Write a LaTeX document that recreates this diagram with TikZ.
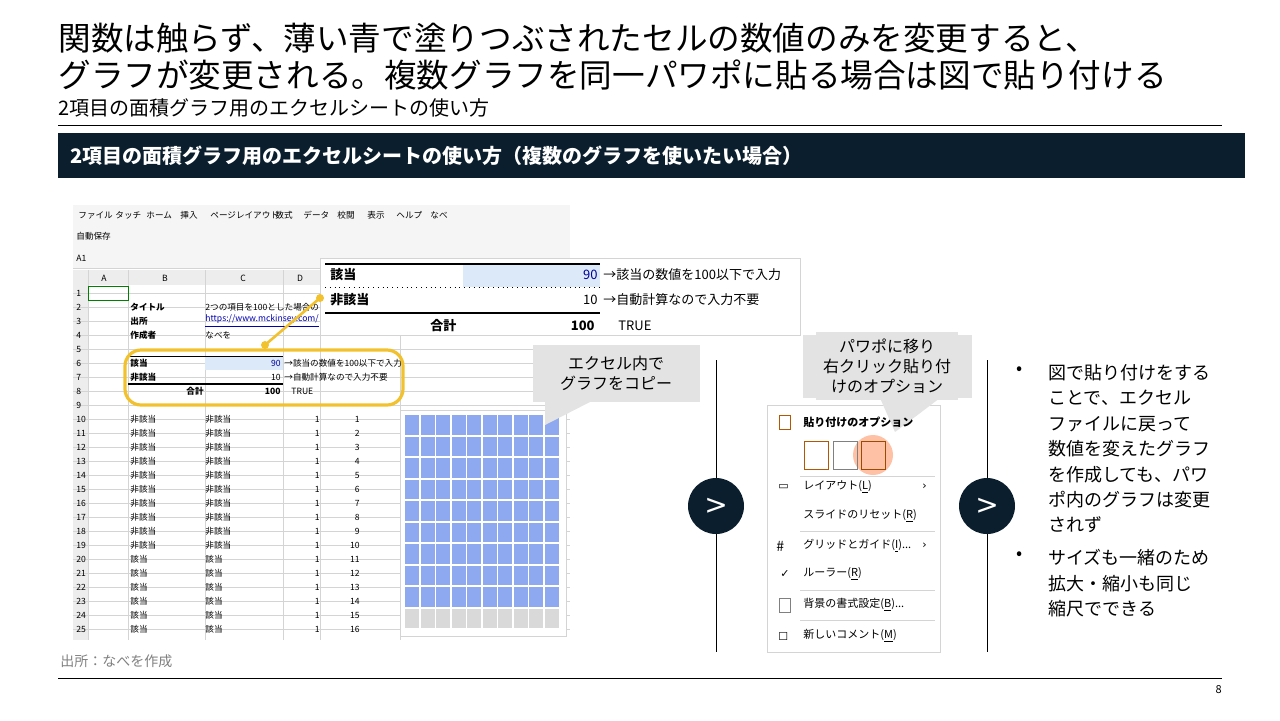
\documentclass[tikz,border=0pt]{standalone}
\usepackage{fontspec}
\setmainfont{Noto Sans CJK JP}
\newfontfamily\dv{DejaVu Sans}
\usetikzlibrary{calc}
\definecolor{navy}{HTML}{0B1E2D}
\definecolor{cellblue}{HTML}{DCE9F8}
\definecolor{waffle}{HTML}{8EA9F0}
\definecolor{wgray}{HTML}{D9D9D9}
\definecolor{callgray}{HTML}{E3E3E3}
\definecolor{yel}{HTML}{F2C12E}
\definecolor{gridc}{HTML}{D4D4D4}
\tikzset{
 tiny/.style={font=\fontsize{4.3}{5}\selectfont, inner sep=0pt, anchor=west},
 call/.style={fill=callgray, draw=none, align=center, font=\fontsize{8}{10}\selectfont},
 bul/.style={anchor=north west, align=left, font=\fontsize{9}{12.7}\selectfont, inner sep=0pt},
 menu/.style={anchor=west, font=\fontsize{5.5}{7}\selectfont, inner sep=0pt},
 chev/.style={circle, fill=navy, minimum size=28pt, text=white, font=\fontsize{14}{14}\selectfont\dv, inner sep=0pt},
 big/.style={anchor=west, font=\fontsize{6.5}{8}\selectfont\bfseries, inner sep=0pt},
}
\begin{document}
\begin{tikzpicture}[x=0.5pt,y=-0.5pt]
\useasboundingbox (0,0) rectangle (1280,720);
% title
\node[anchor=west,inner sep=0,font=\fontsize{16.3}{18}\selectfont] (t1) at (58,38) {関数は触らず、薄い青で塗りつぶされたセルの数値のみを変更すると、};
\node[anchor=west,inner sep=0,font=\fontsize{16.3}{18}\selectfont] (t2) at (58,75) {グラフが変更される。複数グラフを同一パワポに貼る場合は図で貼り付ける};
\node[anchor=west,inner sep=0,font=\fontsize{10}{11}\selectfont] (t3) at (58,108) {2項目の面積グラフ用のエクセルシートの使い方};
\draw[line width=0.5pt] (58,125) -- (1222,125);
\fill[navy] (58,133) rectangle (1245,178);
\node[anchor=west,inner sep=0,text=white,font=\fontsize{10}{11}\selectfont\bfseries] (bn) at (70,156) {2項目の面積グラフ用のエクセルシートの使い方（複数のグラフを使いたい場合）};
% excel ribbon
\fill[white!96!black] (73,205) rectangle (570,268);
\foreach \t/\x in {ファイル/78,タッチ/115,ホーム/146,挿入/180,ページレイアウト/210,数式/275,データ/303,校閲/337,表示/367,ヘルプ/396,なべ/430}
  \node[tiny] at (\x,215) {\t};
\node[tiny] at (76,236) {自動保存};
\node[tiny] at (76,258) {A1};
\draw[gridc] (73,268) -- (570,268);
% grid
\fill[white!93!black] (73,270) rectangle (570,285);
\fill[white!93!black] (73,285) rectangle (88,640);
\foreach \x in {88,128,205,283,320,400} \draw[gridc,line width=0.3pt] (\x,270) -- (\x,640);
\foreach \r in {1,...,25} {
  \draw[gridc,line width=0.3pt] (73,{279+14*\r}) -- (570,{279+14*\r});
  \node[tiny,font=\fontsize{4.3}{5}\selectfont] at (76,{293+14*(\r-1)}) {\r};
}
\foreach \t/\x in {A/104,B/165,C/243,D/300} \node[font=\fontsize{4.3}{5}\selectfont] at (\x,278) {\t};
\draw[green!50!black] (88,286) rectangle (128,300);
\node[tiny,font=\fontsize{4.3}{5}\selectfont\bfseries] at (130,307) {タイトル};
\node[tiny,font=\fontsize{4.3}{5}\selectfont\bfseries] at (130,321) {出所};
\node[tiny,font=\fontsize{4.3}{5}\selectfont\bfseries] at (130,335) {作成者};
\node[tiny] at (205,307) {2つの項目を100とした場合の};
\node[tiny,text=blue!70!black] at (205,321) {\underline{https://www.mckinsey.com/}};
\node[tiny] at (205,335) {なべを};
\fill[cellblue] (205,356) rectangle (283,370);
\draw[line width=0.5pt] (128,356) -- (283,356);
\draw[line width=0.6pt] (128,384) -- (283,384);
\node[tiny,font=\fontsize{4.3}{5}\selectfont\bfseries] at (130,363) {該当};
\node[tiny,font=\fontsize{4.3}{5}\selectfont\bfseries] at (130,377) {非該当};
\node[font=\fontsize{4.3}{5}\selectfont\bfseries,inner sep=0] at (195,391) {合計};
\node[anchor=east,inner sep=0,font=\fontsize{4.3}{5}\selectfont,text=blue!60!black] at (281,363) {90};
\node[anchor=east,inner sep=0,font=\fontsize{4.3}{5}\selectfont] at (281,377) {10};
\node[anchor=east,inner sep=0,font=\fontsize{4.3}{5}\selectfont\bfseries\itshape] at (281,391) {100};
\node[tiny] at (284,363) {→該当の数値を100以下で入力};
\node[tiny] at (284,377) {→自動計算なので入力不要};
\node[tiny] at (291,391) {TRUE};
\foreach \r in {10,...,25} {
  \pgfmathtruncatemacro{\n}{\r-9}
  \ifnum\r<20 \def\lab{非該当}\else\def\lab{該当}\fi
  \node[tiny] at (130,{293+14*(\r-1)}) {\lab};
  \node[tiny] at (205,{293+14*(\r-1)}) {\lab};
  \node[anchor=east,inner sep=0,font=\fontsize{4.3}{5}\selectfont] at (320,{293+14*(\r-1)}) {1};
  \node[anchor=east,inner sep=0,font=\fontsize{4.3}{5}\selectfont] at (360,{293+14*(\r-1)}) {\n};
}
% yellow highlight
\draw[yel,line width=1.6pt,rounded corners=8pt] (125,350) rectangle (403,405);
% waffle
\fill[white] (400,410) rectangle (566,636);
\draw[gridc] (400,410) rectangle (566,636);
\foreach \i in {0,...,9} \foreach \j in {0,...,9} {
  \ifnum\j=9 \def\cc{wgray}\else\def\cc{waffle}\fi
  \fill[\cc] ({405+15.5*\i},{415+21.5*\j}) rectangle ({405+15.5*\i+14},{415+21.5*\j+19.5});
}
% enlarged table
\fill[white] (320,258) rectangle (800,335);
\draw[gridc] (320,258) rectangle (800,335);
\fill[cellblue] (463,264) rectangle (600,287);
\draw[line width=1.2pt] (325,264) -- (600,264);
\draw[dotted] (325,287) -- (600,287);
\draw[line width=1.2pt] (325,313) -- (600,313);
\node[big] (g1) at (330,275) {該当};
\node[big] (g2) at (330,300) {非該当};
\node[big] (g3) at (430,326) {合計};
\node[anchor=east,inner sep=0,font=\fontsize{6.5}{8}\selectfont,text=blue!60!black] at (598,275) {90};
\node[anchor=east,inner sep=0,font=\fontsize{6.5}{8}\selectfont] at (598,300) {10};
\node[anchor=east,inner sep=0,font=\fontsize{6.5}{8}\selectfont\bfseries\itshape] at (595,326) {100};
\node[anchor=west,inner sep=0,font=\fontsize{6.5}{8}\selectfont] at (603,275) {→該当の数値を100以下で入力};
\node[anchor=west,inner sep=0,font=\fontsize{6.5}{8}\selectfont] at (603,300) {→自動計算なので入力不要};
\node[anchor=west,inner sep=0,font=\fontsize{6.5}{8}\selectfont] at (618,326) {TRUE};
\coordinate (ya) at (265,345);
\coordinate (yb) at (320,298);
\draw[yel,line width=1.3pt] (ya) -- (yb);
\fill[yel] (ya) circle (4) (yb) circle (4);
% callouts
\fill[callgray] (533,345) rectangle (700,402);
\fill[callgray] (545,402) -- (590,402) -- (545,425) -- cycle;
\node[call] (c1) at (616,373) {エクセル内で\\グラフをコピー};
% context menu
\draw[gridc,fill=white] (767,405) rectangle (940,652);
\fill[callgray] (803,335) rectangle (972,398);
\fill[callgray] (880,398) -- (940,398) -- (895,432) -- cycle;
\node[call] (c2) at (887,366) {パワポに移り\\右クリック貼り付\\けのオプション};
\node[menu,font=\fontsize{5.5}{7}\selectfont\bfseries] at (803,422) {貼り付けのオプション};
\draw[orange!70!black] (779,415) rectangle (790,429);
\fill[red!40!orange!35] (873,455) circle (20);
\node[draw=orange!70!black,minimum width=12pt,minimum height=14pt,inner sep=0] (p1) at (816,455) {};
\node[draw=gray,minimum width=12pt,minimum height=14pt,inner sep=0] (p2) at (845,455) {};
\node[draw=orange!60!black,minimum width=12pt,minimum height=14pt,inner sep=0] (p3) at (873,455) {};
\draw[gridc] (800,476) -- (935,476);
\node[menu] at (778,487) {\dv▭};
\node[menu] at (803,487) {レイアウト(\underline{L})};
\node[menu] at (922,487) {\dv›};
\node[menu] at (803,516) {スライドのリセット(\underline{R})};
\draw[gridc] (800,531) -- (935,531);
\node[menu,font=\fontsize{7}{7}\selectfont] at (776,546) {\#};
\node[menu] at (803,546) {グリッドとガイド(\underline{I})...};
\node[menu] at (922,546) {\dv›};
\node[menu] at (780,574) {\dv✓};
\node[menu] at (803,574) {ルーラー(\underline{R})};
\draw[gridc] (800,590) -- (935,590);
\node[menu] at (803,605) {背景の書式設定(\underline{B})...};
\draw[gray] (779,598) rectangle (790,612);
\draw[gridc] (800,620) -- (935,620);
\node[menu] at (803,636) {新しいコメント(\underline{M})};
\node[menu] at (778,636) {\dv☐};
% chevrons
\node[chev] (ch1) at (716,506) {>};
\node[chev] (ch2) at (987,506) {>};
\draw[line width=0.5pt] (716,360) -- (ch1.north);
\draw[line width=0.5pt] (ch1.south) -- (716,652);
\draw[line width=0.5pt] (987,360) -- (ch2.north);
\draw[line width=0.5pt] (ch2.south) -- (987,652);
% bullets
\node[anchor=north west,inner sep=0,font=\fontsize{9}{12.7}\selectfont] at (1016,366) {•};
\node[bul] (b1) at (1048,364) {図で貼り付けをする\\ことで、エクセル\\ファイルに戻って\\数値を変えたグラフ\\を作成しても、パワ\\ポ内のグラフは変更\\されず};
\node[anchor=north west,inner sep=0,font=\fontsize{9}{12.7}\selectfont] at (1016,551) {•};
\node[bul] (b2) at (1048,549) {サイズも一緒のため\\拡大・縮小も同じ\\縮尺でできる};
% footer
\node[anchor=west,inner sep=0,text=gray,font=\fontsize{7}{8}\selectfont] (src) at (60,661) {出所：なべを作成};
\draw[line width=0.5pt] (58,678) -- (1222,678);
\node[anchor=east,inner sep=0,font=\fontsize{5.5}{6}\selectfont] (pg) at (1222,690) {8};
\end{tikzpicture}
\end{document}
